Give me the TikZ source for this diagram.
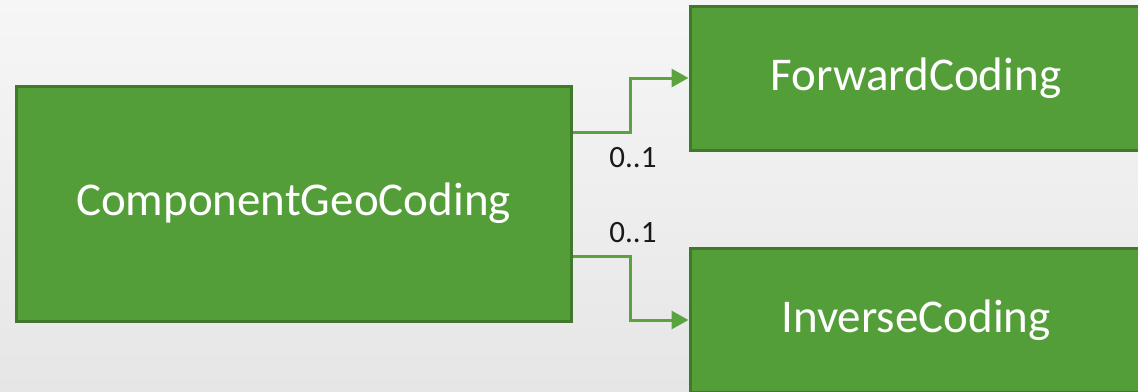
\documentclass[tikz,border=0pt]{standalone}
\usepackage{fontspec}
\setmainfont{Carlito}
\usetikzlibrary{arrows.meta,calc}
\definecolor{boxfill}{HTML}{549E39}
\definecolor{boxedge}{HTML}{41792C}
\definecolor{linkgreen}{HTML}{5AA33F}
\definecolor{bgtop}{HTML}{F6F6F6}
\definecolor{bgbottom}{HTML}{E6E6E6}
\tikzset{
  classbox/.style={draw=boxedge, line width=3pt, fill=boxfill, text=white,
    inner sep=0pt, font=\fontsize{47}{56}\selectfont},
  assoc/.style={draw=linkgreen, line width=3pt,
    -{Triangle[length=17pt,width=18pt]}},
  mult/.style={font=\fontsize{31}{36}\selectfont, text=black!90, inner sep=0pt}
}
\begin{document}
\begin{tikzpicture}[x=1pt,y=-1pt]
  % background
  \shade[top color=bgtop, bottom color=bgbottom] (0,0) rectangle (1138,391);
  \useasboundingbox (0,0) rectangle (1138,391);

  % classes
  \node[classbox, minimum width=555pt, minimum height=235pt] (comp) at (293.5,203.5) {ComponentGeoCoding};
  \node[classbox, minimum width=452pt, minimum height=144pt] (fwd) at (916,78) {ForwardCoding};
  \node[classbox, minimum width=452pt, minimum height=144pt] (inv) at (916,320) {InverseCoding};

  % association end points on the source class
  \coordinate (s1) at ($(comp.north east)!0.2!(comp.south east)$);
  \coordinate (s2) at ($(comp.north east)!0.723!(comp.south east)$);

  % associations
  \draw[assoc] (s1) -- (630,0 |- s1) -- (630,0 |- fwd.west) -- (fwd.west);
  \draw[assoc] (s2) -- (630,0 |- s2) -- (630,0 |- inv.west) -- (inv.west);

  % multiplicities
  \node[mult] (m1) at (633,158) {0..1};
  \node[mult] (m2) at (633,233) {0..1};
\end{tikzpicture}
\end{document}
